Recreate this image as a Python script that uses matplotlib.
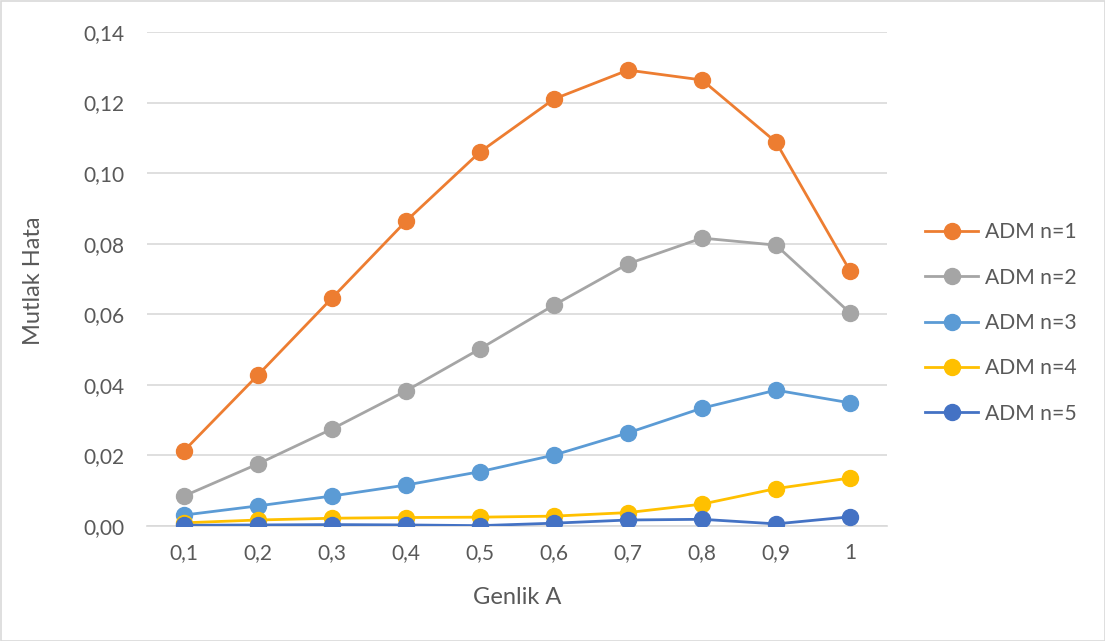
import matplotlib
matplotlib.use("Agg")
import matplotlib.pyplot as plt
from matplotlib.patches import Rectangle

categories = ["0,1", "0,2", "0,3", "0,4", "0,5", "0,6", "0,7", "0,8", "0,9", "1"]
n1 = [0.0213, 0.0428, 0.0646, 0.0864, 0.1060, 0.1210, 0.1292, 0.1264, 0.1088, 0.0723]
n2 = [0.0085, 0.0176, 0.0275, 0.0383, 0.0502, 0.0626, 0.0743, 0.0816, 0.0796, 0.0604]
n3 = [0.0031, 0.0057, 0.0085, 0.0116, 0.0154, 0.0201, 0.0264, 0.0334, 0.0385, 0.0349]
n4 = [0.0009, 0.0017, 0.0022, 0.0024, 0.0025, 0.0028, 0.0038, 0.0062, 0.0106, 0.0136]
n5 = [0.0002, 0.0003, 0.0004, 0.0003, 0.0001, 0.0008, 0.0017, 0.0019, 0.0006, 0.0026]
series = [("ADM n=1", n1, "#ED7D31"), ("ADM n=2", n2, "#A5A5A5"),
          ("ADM n=3", n3, "#5B9BD5"), ("ADM n=4", n4, "#FFC000"),
          ("ADM n=5", n5, "#4472C4")]
yticks = [0.0, 0.02, 0.04, 0.06, 0.08, 0.10, 0.12, 0.14]
ytick_labels = ["0,00", "0,02", "0,04", "0,06", "0,08", "0,10", "0,12", "0,14"]

plt.rcParams['font.family'] = ['Lato', 'DejaVu Sans']
W, H = 1105, 641
fig = plt.figure(figsize=(W/100, H/100), dpi=100)
ax = fig.add_axes([147/W, 1-526/H, (887-147)/W, (526-32)/H])

x = list(range(len(categories)))
for name, vals, col in series:
    ax.plot(x, vals, color=col, lw=2.0, marker='o', markersize=11.5, label=name, zorder=3)

ax.set_xlim(-0.5, 9.5)
ax.set_ylim(0, 0.14)
ax.set_yticks(yticks)
ax.set_yticklabels(ytick_labels)
ax.set_xticks(x)
ax.set_xticklabels(categories)
ax.grid(axis='y', color='#D9D9D9', lw=1.2, zorder=0)
for s in ['top', 'right', 'left']:
    ax.spines[s].set_visible(False)
ax.spines['bottom'].set_color('#D9D9D9')
ax.spines['bottom'].set_linewidth(1.2)
ax.tick_params(axis='both', length=0, labelsize=15, colors='#595959')
ax.tick_params(axis='y', pad=16)
ax.tick_params(axis='x', pad=12)
ax.set_axisbelow(True)

fig.text(33/W, 1-281/H, "Mutlak Hata", rotation=90, ha='center', va='center', fontsize=17, color='#595959')
fig.text(517/W, 1-598/H, "Genlik A", ha='center', va='center', fontsize=17, color='#595959')

leg = ax.legend(loc='center left', bbox_to_anchor=(921/W, 1-323/H), bbox_transform=fig.transFigure,
                frameon=False, fontsize=15.2, labelspacing=1.2, handlelength=2.5, handletextpad=0.35,
                labelcolor='#595959', borderpad=0.2, borderaxespad=0)

fig.patches.append(Rectangle((0.5/W, 0.5/H), 1-1/W, 1-1.5/H, transform=fig.transFigure,
                             fill=False, edgecolor='#D9D9D9', lw=1.2))
fig.savefig("out.png", dpi=100, facecolor='white')
